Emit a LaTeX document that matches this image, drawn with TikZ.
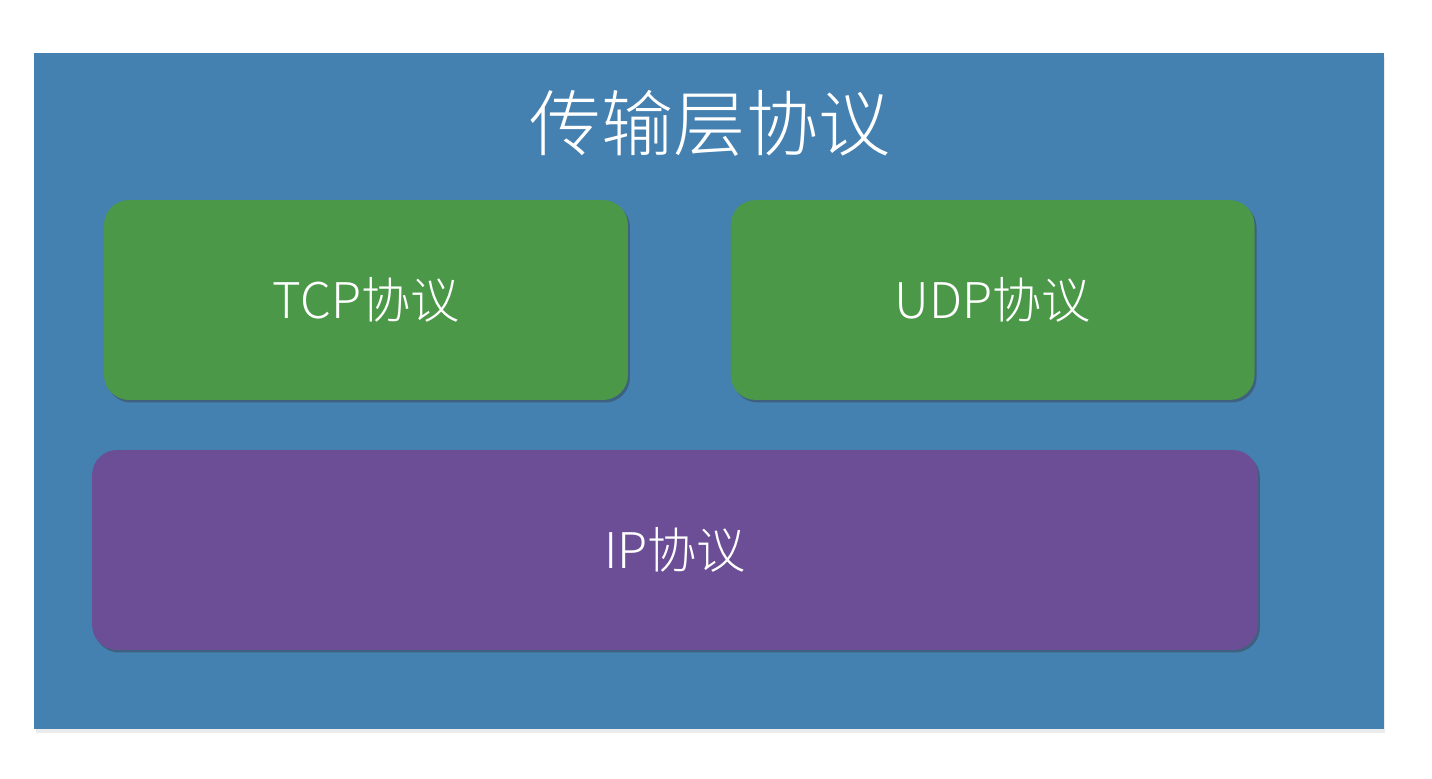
\documentclass[tikz,border=0pt]{standalone}
\usepackage{fontspec}
\newfontfamily\cjk{Noto Sans CJK SC Light}
\usepackage{tikz}
\usetikzlibrary{positioning,shadows}

\definecolor{panelblue}{RGB}{68,128,176}
\definecolor{tcpgreen}{RGB}{74,152,72}
\definecolor{ippurple}{RGB}{108,78,150}

\begin{document}
\begin{tikzpicture}[x=0.02cm, y=-0.02cm,
    layerbox/.style={rectangle, rounded corners=0.5cm, text=white, font=\cjk\fontsize{28}{32}\selectfont,
        drop shadow={shadow xshift=0.04cm, shadow yshift=-0.05cm, opacity=0.4, fill=black!80}}]
        \useasboundingbox (0,0) rectangle (1432,778);

        %% Panel
        \node[rectangle, fill=panelblue, minimum width=27cm, minimum height=13.54cm, inner sep=0pt,
            drop shadow={shadow xshift=0.03cm, shadow yshift=-0.08cm, opacity=0.2, fill=black!40}] (panel) at (709,391) {};
        \node[text=white, font=\cjk\fontsize{41}{45}\selectfont] (title) at (710,123) {传输层协议};

        %% Transport protocols
        \node[layerbox, fill=tcpgreen, minimum width=10.48cm, minimum height=4cm] (tcp) at (366,300) {TCP协议};
        \node[layerbox, fill=tcpgreen, minimum width=10.48cm, minimum height=4cm, right=2.04cm of tcp] (udp) {UDP协议};

        %% Network layer
        \node[layerbox, fill=ippurple, minimum width=23.32cm, minimum height=4cm] (ip) at (675,550) {IP协议};
\end{tikzpicture}
\end{document}
